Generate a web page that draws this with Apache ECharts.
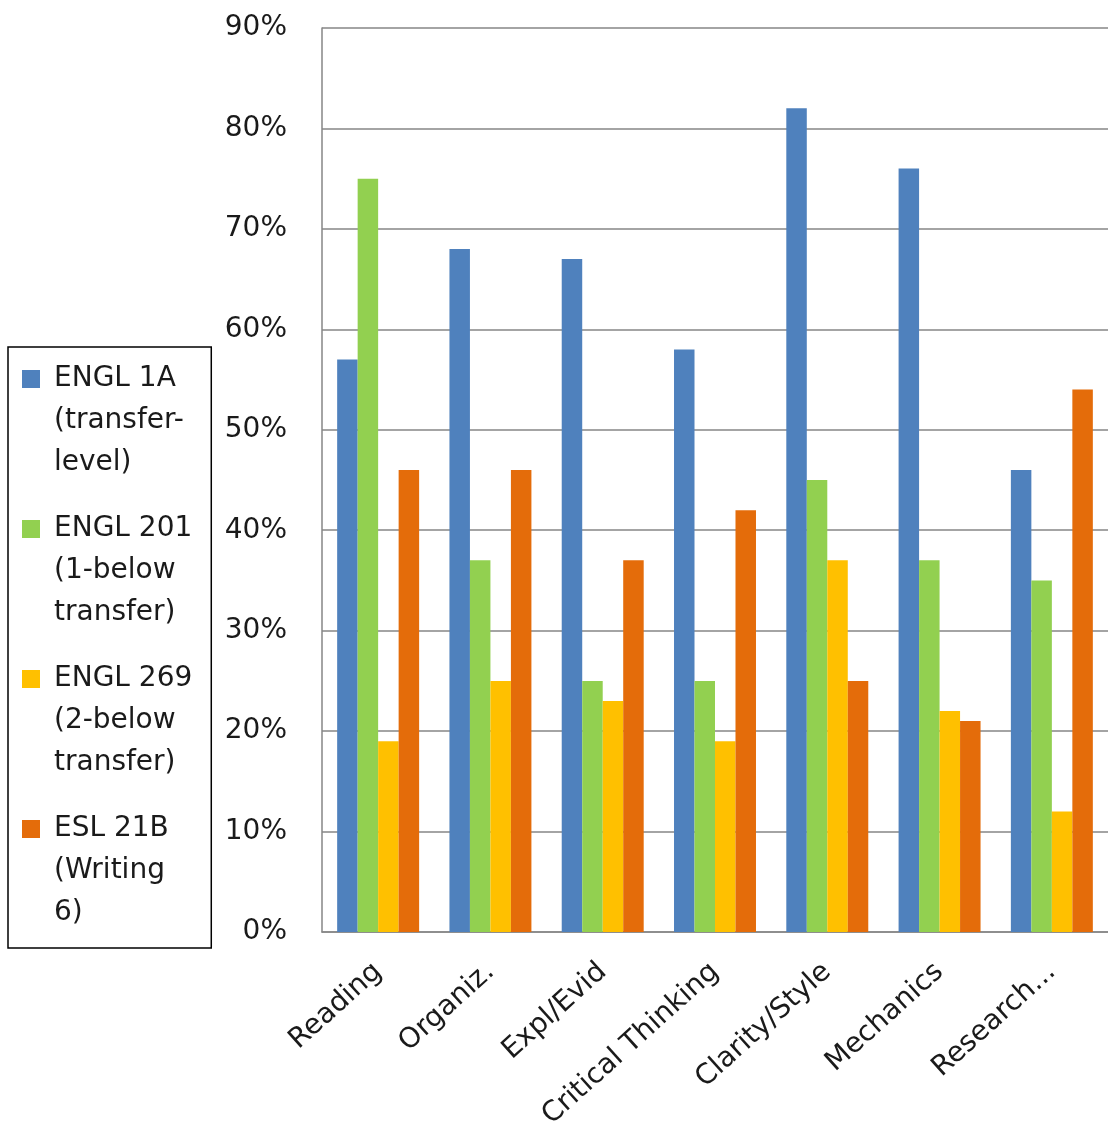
<!DOCTYPE html>
<html>
<head>
<meta charset="utf-8">
<title>Writing outcomes by course</title>
<script src="https://cdn.jsdelivr.net/npm/echarts@6/dist/echarts.min.js"></script>
<style>
  html, body { margin: 0; padding: 0; background: #ffffff; }
  #chart { width: 1108px; height: 1133px; }
</style>
</head>
<body>
<div id="chart"></div>
<script>
// Rubric areas along the x axis
const categories = ['Reading', 'Organiz.', 'Expl/Evid', 'Critical Thinking', 'Clarity/Style', 'Mechanics', 'Research...'];

// Percent of students meeting the standard, per course
const engl1A  = [57, 68, 67, 58, 82, 76, 46];
const engl201 = [75, 37, 25, 25, 45, 37, 35];
const engl269 = [19, 25, 23, 19, 37, 22, 12];
const esl21B  = [46, 46, 37, 42, 25, 21, 54];

// Course names and their legend captions
const courseNames = ['ENGL 1A', 'ENGL 201', 'ENGL 269', 'ESL 21B'];
const courseCaptions = [
  'ENGL 1A\n(transfer-\nlevel)',
  'ENGL 201\n(1-below\ntransfer)',
  'ENGL 269\n(2-below\ntransfer)',
  'ESL 21B\n(Writing\n6)'
];

// Y axis ticks
const yMin = 0, yMax = 90, yStep = 10;

const colors = ['#4F81BD', '#92D050', '#FFC000', '#E46C0A'];
const seriesValues = [engl1A, engl201, engl269, esl21B];

const chart = echarts.init(document.getElementById('chart'), null, { renderer: 'canvas' });

// Legend swatch: an 18px square near the top of a tall, otherwise empty box
const swatch = 'path://M0,0M0,12h18v18h-18zM0,126';

chart.setOption({
  animation: false,
  color: colors,
  grid: { left: 322, top: 28, width: 787, bottom: 201, containLabel: false },
  legend: {
    orient: 'vertical',
    left: 8,
    top: 347,
    padding: [11, 19, 14, 14],
    itemGap: 24,
    itemWidth: 18,
    itemHeight: 126,
    icon: swatch,
    borderColor: '#000000',
    borderWidth: 1.5,
    borderRadius: 0,
    data: courseNames,
    formatter: function (name) { return courseCaptions[courseNames.indexOf(name)]; },
    textStyle: {
      fontFamily: 'DejaVu Sans',
      fontSize: 28,
      lineHeight: 42,
      color: '#1a1a1a',
      padding: [0, 0, 0, 9]
    }
  },
  xAxis: {
    type: 'category',
    data: categories,
    axisLine: { show: true, lineStyle: { color: '#868686', width: 1.5 } },
    axisTick: { show: false },
    axisLabel: {
      interval: 0,
      rotate: 42,
      margin: 36,
      fontFamily: 'DejaVu Sans',
      fontSize: 28,
      color: '#1a1a1a'
    },
    splitLine: { show: false }
  },
  yAxis: {
    type: 'value',
    min: yMin,
    max: yMax,
    interval: yStep,
    axisLine: { show: true, lineStyle: { color: '#868686', width: 1.5 } },
    axisTick: { show: false },
    axisLabel: {
      formatter: '{value}%',
      margin: 35,
      fontFamily: 'DejaVu Sans',
      fontSize: 28,
      color: '#1a1a1a'
    },
    splitLine: { show: true, lineStyle: { color: '#868686', width: 1.5 } }
  },
  series: courseNames.map(function (name, i) {
    return {
      name: name,
      type: 'bar',
      data: seriesValues[i],
      barGap: '0%',
      barCategoryGap: '27%',
      itemStyle: { color: colors[i] }
    };
  })
});
</script>
</body>
</html>
